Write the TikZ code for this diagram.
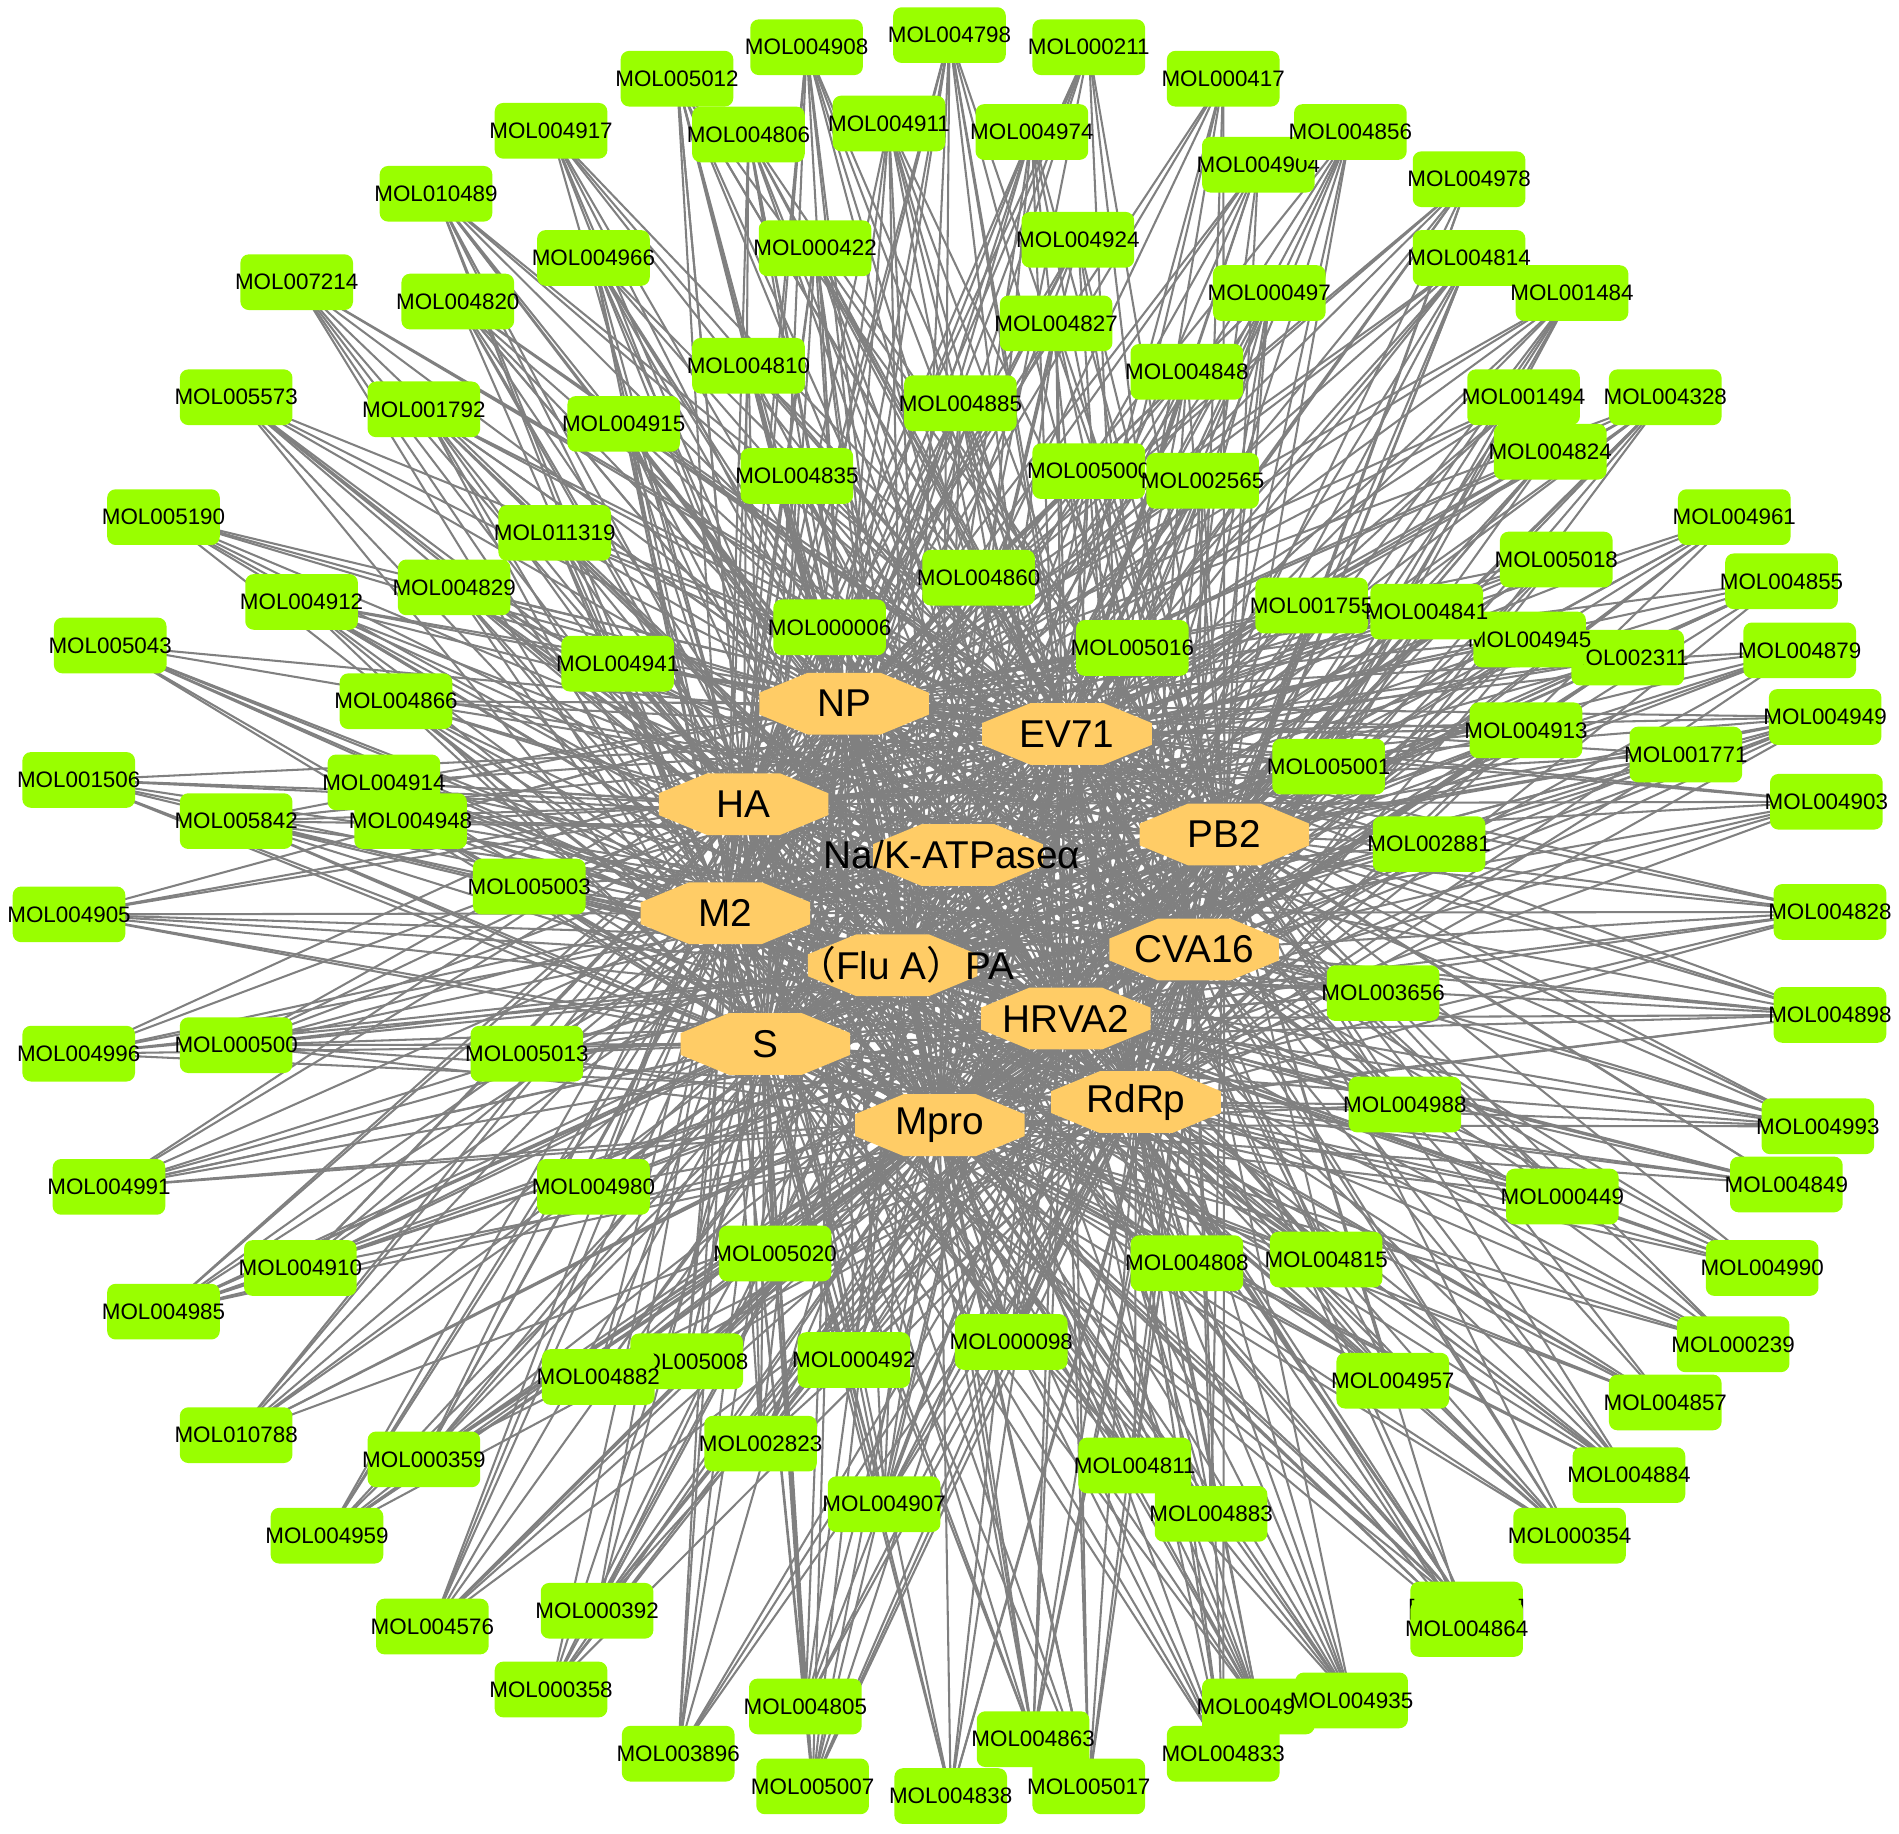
\documentclass[tikz,border=0pt]{standalone}
\usepackage{fontspec}
\setmainfont{Liberation Sans}
\newfontfamily\cjk{Noto Sans CJK SC}
\usetikzlibrary{backgrounds}
\definecolor{molgreen}{RGB}{153,255,0}
\definecolor{octfill}{RGB}{255,204,102}
\definecolor{edgegray}{RGB}{128,128,128}
\tikzset{
  mol/.style={rectangle, rounded corners=7pt, fill=molgreen, minimum width=93pt, minimum height=46pt, inner sep=0pt, font=\fontsize{18.5}{20}\selectfont},
  tgt/.style={inner sep=0pt, font=\fontsize{32}{34}\selectfont},
  octa/.style={fill=octfill},
  edge/.style={draw=edgegray, line width=1.7pt},
}
\newcommand\octag[2]{\fill[octa,shift={(#1,#2)}] (-70,-9) -- (-30,-25.5) -- (30,-25.5) -- (70,-9) -- (70,9) -- (30,25.5) -- (-30,25.5) -- (-70,9) -- cycle;}
\def\mollist{MOL004908/666/39, MOL004798/784/29, MOL000211/899/39, MOL005012/559/65, MOL000417/1010/65, MOL004806/618/111, MOL004911/734/102, MOL004974/852/109, MOL004917/455/108, MOL004904/1039/136, MOL004856/1115/109, MOL004978/1213/148, MOL010489/360/160, MOL004966/490/213, MOL000422/673/205, MOL004924/890/198, MOL004814/1213/213, MOL007214/245/233, MOL004820/378/249, MOL000497/1048/242, MOL001484/1298/242, MOL004827/872/267, MOL004810/618/302, MOL004848/980/307, MOL005573/195/328, MOL001792/350/338, MOL004885/793/333, MOL004915/515/350, MOL001494/1258/328, MOL004328/1375/328, MOL004824/1280/373, MOL005000/899/389, MOL002565/993/397, MOL004835/658/393, MOL005190/135/427, MOL011319/458/440, MOL004961/1432/427, MOL005018/1285/462, MOL004860/808/477, MOL004829/375/485, MOL004912/249/497, MOL004855/1471/480, MOL001755/1083/500, MOL002311/1344/543, MOL004945/1263/528, MOL004841/1178/505, MOL000006/685/518, MOL005016/935/535, MOL004879/1486/537, MOL005043/91/533, MOL004941/510/548, MOL004866/327/579, MOL004913/1260/603, MOL004949/1507/592, MOL001771/1392/623, MOL005001/1097/633, MOL001506/65/644, MOL004914/317/646, MOL005842/195/678, MOL004948/339/678, MOL004903/1508/662, MOL002881/1180/697, MOL005003/437/732, MOL004905/57/755, MOL004828/1511/753, MOL003656/1142/820, MOL004898/1511/838, MOL004996/65/870, MOL000500/195/863, MOL005013/435/870, MOL004988/1160/912, MOL004993/1501/930, MOL004991/90/980, MOL004980/490/980, MOL000449/1290/988, MOL004849/1475/978, MOL004910/248/1047, MOL005020/640/1035, MOL004808/980/1043, MOL004815/1095/1040, MOL004990/1455/1047, MOL004985/135/1083, MOL000239/1431/1110, MOL000098/835/1108, MOL000492/705/1123, MOL005008/567/1124, MOL004882/494/1137, MOL004957/1150/1140, MOL004857/1375/1158, MOL010788/195/1185, MOL002823/628/1192, MOL000359/350/1205, MOL004884/1345/1218, MOL004811/937/1210, MOL004907/730/1242, MOL004883/1000/1250, MOL004959/270/1268, MOL000354/1296/1268, MOL004576/357/1343, MOL000392/493/1330, MOL004864/1211/1345, MOL000358/455/1395, MOL004805/665/1409, MOL004833/1010/1448, MOL004935/1116/1404, MOL004863/853/1436, MOL003896/560/1448, MOL005007/671/1475, MOL004838/785/1483, MOL005017/899/1475}
\def\tgtlist{NP,EV71,HA,PB2,NaK,M2,CVA16,PA,HRVA2,S,RdRp,Mpro}
\begin{document}
\begin{tikzpicture}[x=1pt,y=-1pt]
\useasboundingbox (0,0) rectangle (1568,1514);
% partly hidden nodes (drawn first, covered by neighbours)
\node[mol] (hidA) at (1211,1329) {\makebox[60pt]{[\hspace{86pt}]}};
\node[mol] (hidB) at (1039,1409) {\makebox[60pt]{MOL004936}};
% compound nodes
\foreach \n/\x/\y in \mollist {
  \node[mol] (\n) at (\x,\y) {\makebox[60pt]{\n}};
}
% target octagons
\octag{697}{581}
\octag{881}{606}
\octag{614}{664}
\octag{1011}{689}
\octag{791}{706}
\octag{599}{754}
\octag{986}{784}
\octag{737}{797}
\octag{880}{841}
\octag{632}{862}
\octag{938}{910}
\octag{776}{929}
\node[tgt] (NP) at (697,581) {NP};
\node[tgt] (EV71) at (881,606) {EV71};
\node[tgt] (HA) at (614,664) {HA};
\node[tgt] (PB2) at (1011,689) {PB2};
\node[tgt] (NaK) at (786,706) {Na/K-ATPaseα};
\node[tgt] (M2) at (599,754) {M2};
\node[tgt] (CVA16) at (986,784) {CVA16};
\node[tgt] (PA) at (748,797) {{\cjk （}Flu A{\cjk ）}PA};
\node[tgt] (HRVA2) at (880,841) {HRVA2};
\node[tgt] (S) at (632,862) {S};
\node[tgt] (RdRp) at (938,910) {RdRp};
\node[tgt] (Mpro) at (776,929) {Mpro};
% edges
\begin{pgfonlayer}{background}
\foreach \n/\x/\y [count=\i] in \mollist {
  \foreach \t [count=\j] in \tgtlist {
    \pgfmathtruncatemacro\h{mod(\i*17+\j*\j*5+\i*\j*7+3,13)}
    \ifnum\h<11 \draw[edge] (\n.center) -- (\t.center);\fi
  }
}
\foreach \t in {NP,HA,M2,S,Mpro,PA,NaK,EV71,HRVA2,RdRp} {
  \draw[edge] (hidA.center) -- (\t.center);
  \draw[edge] (hidB.center) -- (\t.center);
}
\end{pgfonlayer}
\end{tikzpicture}
\end{document}
